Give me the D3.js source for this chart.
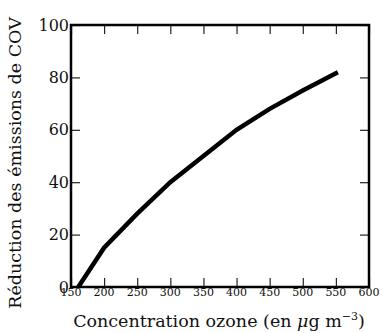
<!DOCTYPE html>
<html>
<head>
<meta charset="utf-8">
<script src="https://cdn.jsdelivr.net/npm/d3@7"></script>
<style>
  body { margin: 0; background: #fff; }
  svg text { font-family: "DejaVu Serif", serif; fill: #111; }
</style>
</head>
<body>
<div id="chart"></div>
<script>
// ozone concentration (µg m-3) vs reduction of VOC emissions (%)
var ozone = [161, 200, 250, 300, 350, 400, 450, 500, 553];
var reduction = [0, 15, 28, 40, 50, 60, 68, 75, 82];
var xTicks = [150, 200, 250, 300, 350, 400, 450, 500, 550, 600];
var yTicks = [0, 20, 40, 60, 80, 100];

var width = 384, height = 333;
var margin = {top: 25, right: 15, bottom: 46, left: 71};
var w = width - margin.left - margin.right;
var h = height - margin.top - margin.bottom;

var svg = d3.select("#chart").append("svg")
  .attr("width", width)
  .attr("height", height);

var g = svg.append("g")
  .attr("transform", "translate(" + margin.left + "," + margin.top + ")");

var x = d3.scaleLinear().domain([150, 600]).range([0, w]);
var y = d3.scaleLinear().domain([0, 100]).range([h, 0]);

/** inward ticks on all four sides */
g.append("g")
  .attr("transform", "translate(0," + h + ")")
  .call(d3.axisTop(x).tickValues(xTicks).tickSize(9).tickFormat(""))
  .call(function(s) { s.select(".domain").remove(); });
g.append("g")
  .call(d3.axisBottom(x).tickValues(xTicks).tickSize(9).tickFormat(""))
  .call(function(s) { s.select(".domain").remove(); });
g.append("g")
  .call(d3.axisRight(y).tickValues(yTicks).tickSize(9).tickFormat(""))
  .call(function(s) { s.select(".domain").remove(); });
g.append("g")
  .attr("transform", "translate(" + w + ",0)")
  .call(d3.axisLeft(y).tickValues(yTicks).tickSize(9).tickFormat(""))
  .call(function(s) { s.select(".domain").remove(); });
g.selectAll(".tick line").attr("stroke", "#222").attr("stroke-width", 1.2);

/** tick labels */
g.selectAll(".xlab")
  .data(xTicks)
  .enter().append("text")
    .attr("class", "xlab")
    .attr("x", function(d) { return x(d); })
    .attr("y", h + 9)
    .attr("text-anchor", "middle")
    .style("font-size", "11px")
    .text(function(d) { return d; });

g.selectAll(".ylab")
  .data(yTicks)
  .enter().append("text")
    .attr("class", "ylab")
    .attr("x", -2)
    .attr("y", function(d) { return y(d); })
    .attr("dy", "0.35em")
    .attr("text-anchor", "end")
    .style("font-size", "16px")
    .text(function(d) { return d; });

/** curve */
var line = d3.line()
  .x(function(d, i) { return x(ozone[i]); })
  .y(function(d) { return y(d); });

g.append("path")
  .datum(reduction)
  .attr("fill", "none")
  .attr("stroke", "#000")
  .attr("stroke-width", 4.5)
  .attr("d", line);

/** frame */
g.append("rect")
  .attr("width", w)
  .attr("height", h)
  .attr("fill", "none")
  .attr("stroke", "#000")
  .attr("stroke-width", 2.5);

/** axis titles */
var xt = svg.append("text")
  .attr("x", margin.left + w / 2 - 1)
  .attr("y", height - 6)
  .attr("text-anchor", "middle")
  .style("font-size", "17.5px");
xt.append("tspan").text("Concentration ozone (en ");
xt.append("tspan").style("font-style", "italic").text("\u03bc");
xt.append("tspan").text("g m");
xt.append("tspan").attr("dy", -7).style("font-size", "11px").text("\u22123");
xt.append("tspan").attr("dy", 7).text(")");

svg.append("text")
  .attr("transform", "translate(21,163) rotate(-90)")
  .attr("text-anchor", "middle")
  .style("font-size", "17.5px")
  .text("Réduction des émissions de COV");
</script>
</body>
</html>
